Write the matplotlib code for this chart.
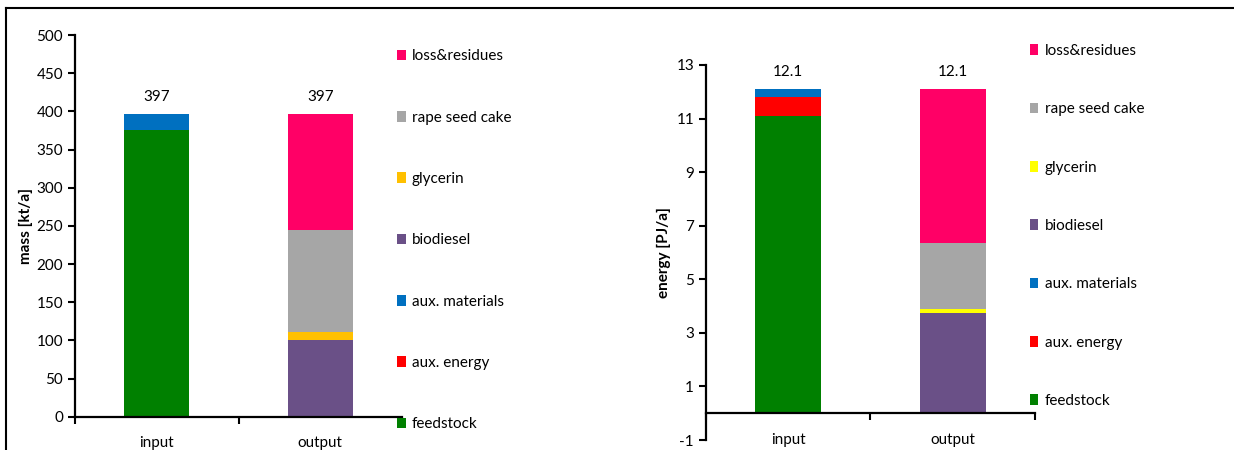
import matplotlib.pyplot as plt
import numpy as np
from matplotlib.lines import Line2D
from matplotlib.patches import Patch

plt.rcParams['font.family'] = ['Lato', 'DejaVu Sans']
plt.rcParams['font.size'] = 11
plt.rcParams['axes.unicode_minus'] = False

categories = ['input', 'output']
series = ['feedstock', 'aux. energy', 'aux. materials', 'biodiesel', 'glycerin', 'rape seed cake', 'loss&residues']

# mass [kt/a]: input, output
mass_feedstock = [376, 0]
mass_aux_energy = [0, 0]
mass_aux_materials = [21, 0]
mass_biodiesel = [0, 100]
mass_glycerin = [0, 11]
mass_rape_cake = [0, 133]
mass_loss = [0, 153]
mass_totals = ['397', '397']

# energy [PJ/a]: input, output
energy_feedstock = [11.1, 0]
energy_aux_energy = [0.7, 0]
energy_aux_materials = [0.3, 0]
energy_biodiesel = [0, 3.73]
energy_glycerin = [0, 0.16]
energy_rape_cake = [0, 2.46]
energy_loss = [0, 5.75]
energy_totals = ['12.1', '12.1']

colors_mass = ['#008000', '#FF0000', '#0070C0', '#6A5087', '#FFC000', '#A6A6A6', '#FF0066']
colors_energy = ['#008000', '#FF0000', '#0070C0', '#6A5087', '#FFFF00', '#A6A6A6', '#FF0066']


def stacked(ax, data, colors, totals, ylim, yticks, ylabel, spacing, label_x, leg_anchor):
    x = np.arange(len(categories))
    bottom = np.zeros(len(categories))
    for vals, c in zip(data, colors):
        ax.bar(x, vals, 0.4, bottom=bottom, color=c, linewidth=0)
        bottom += np.array(vals)
    for xi, top, t in zip(x, bottom, totals):
        ax.annotate(t, (xi, top), xytext=(0, 7), textcoords='offset points',
                    ha='center', va='bottom')
    ax.set_xlim(-0.5, 1.5)
    ax.set_ylim(*ylim)
    ax.set_yticks(yticks)
    ax.set_xticks(x)
    ax.set_xticklabels(categories)
    ax.set_xticks([-0.5, 0.5, 1.5], minor=True)
    ax.tick_params(axis='x', which='major', length=0, pad=14)
    ax.tick_params(axis='x', which='minor', length=5, width=1.5, direction='out')
    ax.tick_params(axis='y', length=5, width=1.5, direction='out')
    for s in ['top', 'right']:
        ax.spines[s].set_visible(False)
    for s in ['left', 'bottom']:
        ax.spines[s].set_linewidth(1.6)
    ax.spines['bottom'].set_position(('data', 0))
    ax.set_ylabel(ylabel, fontweight='bold')
    ax.yaxis.set_label_coords(label_x, 0.5)
    handles = [Patch(facecolor=c, label=s) for s, c in zip(series, colors)][::-1]
    ax.legend(handles=handles, loc='upper left', bbox_to_anchor=leg_anchor,
              frameon=False, handlelength=0.55, handleheight=0.7,
              handletextpad=0.4, labelspacing=spacing, borderpad=0, borderaxespad=0)


fig = plt.figure(figsize=(12.34, 4.5), dpi=100)
ax1 = fig.add_axes([0.0608, 0.074, 0.265, 0.848])
ax2 = fig.add_axes([0.572, 0.0222, 0.2667, 0.8334])

stacked(ax1,
        [mass_feedstock, mass_aux_energy, mass_aux_materials, mass_biodiesel,
         mass_glycerin, mass_rape_cake, mass_loss],
        colors_mass, mass_totals, (0, 500), np.arange(0, 501, 50), 'mass [kt/a]',
        3.1, -0.13, (0.985, 0.963))
stacked(ax2,
        [energy_feedstock, energy_aux_energy, energy_aux_materials, energy_biodiesel,
         energy_glycerin, energy_rape_cake, energy_loss],
        colors_energy, energy_totals, (-1, 13), np.arange(-1, 14, 2), 'energy [PJ/a]',
        2.9, -0.106, (0.985, 1.056))

# outer frame (cut at right and bottom)
fig.add_artist(Line2D([6 / 1234, 6 / 1234], [0, 1 - 8 / 450], color='black', lw=1.5))
fig.add_artist(Line2D([6 / 1234, 1], [1 - 8 / 450, 1 - 8 / 450], color='black', lw=1.5))

fig.savefig('out.png', dpi=100)
